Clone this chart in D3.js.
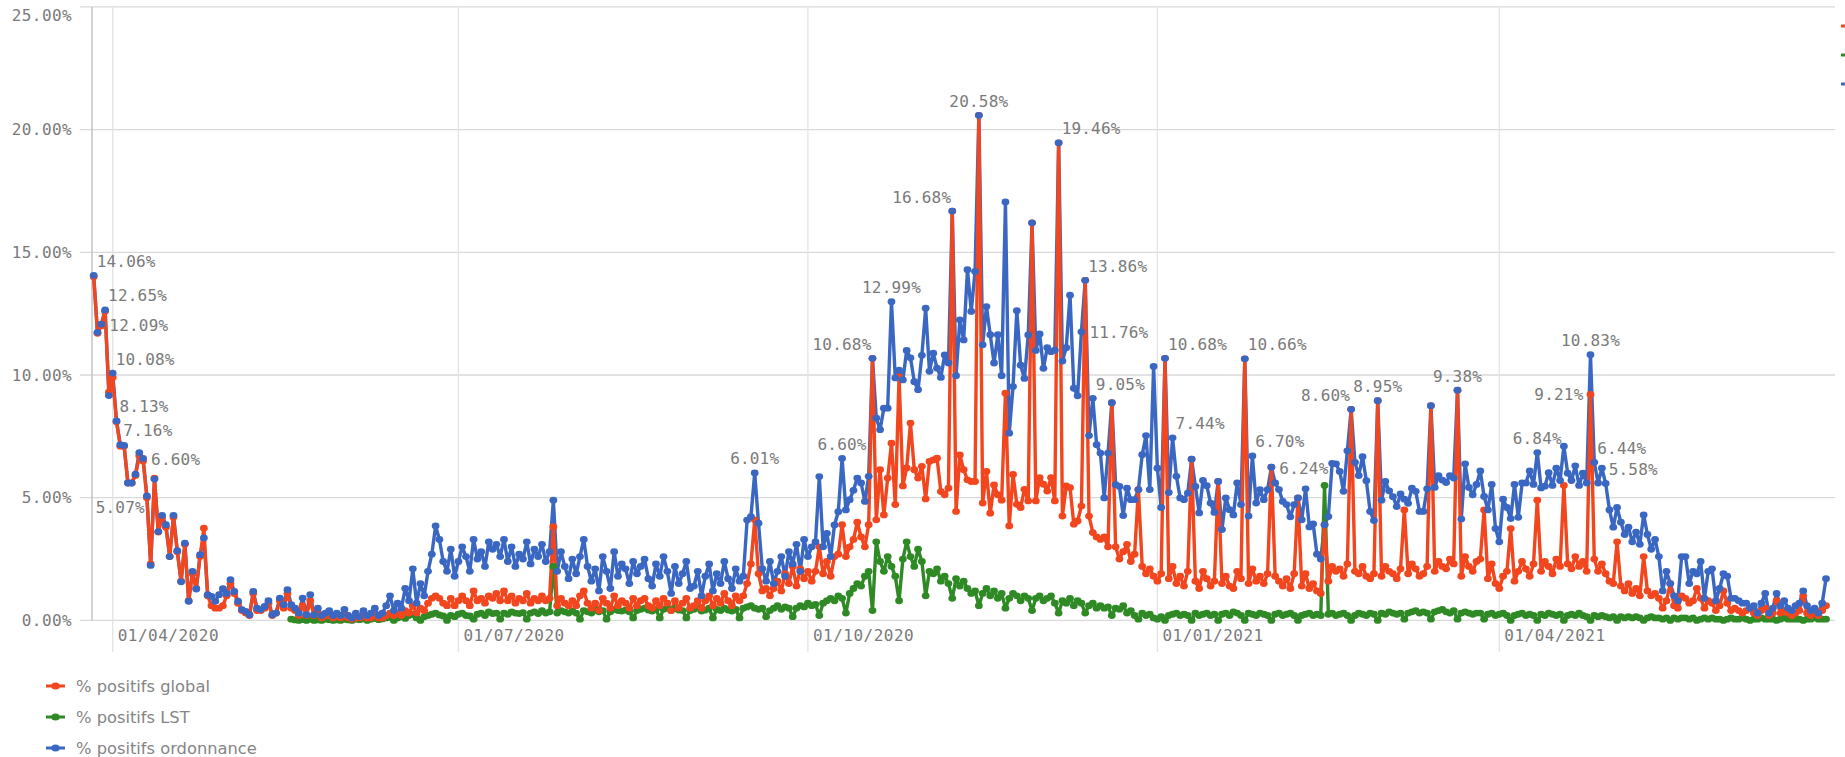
<!DOCTYPE html>
<html><head><meta charset="utf-8">
<script src="https://cdn.jsdelivr.net/npm/d3@7"></script>
<style>body{margin:0;background:#fff;}svg{display:block;}</style>
</head><body>
<svg id="chart" width="1845" height="757"></svg>
<script>
const startDate = "2020-03-27";
const seriesNames = ["% positifs global", "% positifs LST", "% positifs ordonnance"];
const yTicks = [0, 5, 10, 15, 20, 25];
const xTickDates = ["2020-04-01", "2020-07-01", "2020-10-01", "2021-01-01", "2021-04-01"];
const xTickLabels = ["01/04/2020", "01/07/2020", "01/10/2020", "01/01/2021", "01/04/2021"];

const ordonnance = [14.06, 11.74, 12.07,
12.65, 9.16, 10.08, 8.13, 7.16, 7.13, 5.6,
5.6, 5.96, 6.84, 6.60, 5.07, 2.24, 5.76,
3.62, 4.28, 3.9, 2.6, 4.28, 2.84, 1.57,
3.15, 0.78, 2.0, 1.28, 2.68, 3.36, 1.05,
0.98, 0.78, 1.05, 1.29, 1.1, 1.66, 1.18,
0.78, 0.44, 0.37, 0.23, 1.18, 0.5, 0.44,
0.57, 0.8, 0.23, 0.3, 0.91, 0.64, 1.25,
0.64, 0.5, 0.3, 0.91, 0.23, 1.05, 0.23,
0.5, 0.2, 0.3, 0.4, 0.2, 0.3, 0.2,
0.45, 0.2, 0.1, 0.3, 0.15, 0.4, 0.2,
0.3, 0.5, 0.2, 0.3, 0.6, 1.0, 0.4,
0.7, 0.5, 1.3, 0.8, 2.1, 0.7, 1.5,
1.0, 2.0, 2.7, 3.85, 3.3, 2.4, 2.0,
2.9, 1.8, 2.4, 3.0, 2.6, 2.0, 3.3,
2.5, 2.8, 2.2, 3.2, 2.9, 3.1, 2.6,
3.3, 2.4, 3.0, 2.2, 2.7, 2.5, 3.2,
2.3, 2.9, 2.6, 3.1, 2.4, 2.8, 4.9,
2.0, 2.8, 2.2, 1.7, 2.5, 1.9, 2.6,
3.3, 2.2, 1.6, 2.1, 1.2, 2.6, 2.0,
1.3, 2.8, 1.8, 2.3, 2.1, 1.5, 2.4,
1.9, 2.2, 2.5, 1.7, 1.4, 2.3, 1.8,
2.6, 2.0, 1.1, 2.2, 1.5, 1.9, 2.4,
1.3, 1.4, 2.0, 1.0, 1.8, 2.3, 1.2,
1.9, 1.5, 2.4, 1.7, 1.3, 2.1, 1.6,
1.8, 4.09, 4.23, 6.01, 3.96, 2.1, 1.6,
2.4, 1.5, 2.0, 2.6, 1.8, 2.8, 2.3,
3.1, 2.0, 3.3, 2.6, 3.0, 3.2, 5.86,
3.0, 3.55, 2.6, 3.89, 4.43, 6.60, 4.5,
4.92, 5.3, 5.8, 5.6, 4.85, 5.87, 10.68,
8.24, 7.77, 8.65, 8.65, 12.99, 9.88, 10.2,
9.8, 11.0, 10.7, 9.73, 9.4, 10.8, 12.72,
10.15, 10.89, 10.28, 9.9, 10.82, 10.49, 16.68,
9.97, 12.25, 11.43, 14.29, 12.59, 14.22, 20.58,
11.23, 12.79, 11.64, 10.49, 11.64, 9.97, 17.05,
7.63, 9.53, 12.62, 10.4, 9.86, 11.63, 16.2,
11.0, 11.67, 10.27, 11.11, 10.95, 11.01, 19.46,
10.57, 11.11, 13.25, 9.46, 9.15, 11.76, 13.86,
7.53, 9.05, 7.16, 6.82, 4.99, 6.82, 8.87,
5.53, 5.46, 4.27, 5.39, 4.92, 4.92, 5.33,
6.75, 7.53, 5.33, 10.35, 6.2, 4.6, 10.68,
5.21, 7.44, 5.87, 4.99, 4.92, 5.19, 6.57,
5.46, 4.38, 5.7, 5.49, 4.78, 4.4, 5.66,
3.7, 4.99, 4.51, 4.3, 5.6, 4.72, 10.66,
4.25, 6.70, 4.78, 5.33, 4.92, 5.33, 6.24,
5.6, 5.33, 4.85, 4.72, 4.22, 4.72, 4.99,
4.1, 5.36, 3.81, 3.93, 2.7, 2.5, 3.9,
4.23, 6.4, 6.38, 6.07, 5.26, 6.91, 8.60,
6.44, 5.9, 6.67, 5.69, 4.44, 4.07, 8.95,
4.9, 5.66, 5.28, 5.04, 4.64, 5.15, 4.94,
4.77, 5.39, 5.26, 4.44, 4.44, 5.36, 8.75,
5.42, 5.9, 5.72, 5.62, 5.9, 5.8, 9.38,
4.13, 6.38, 5.42, 5.12, 5.54, 6.09, 5.05,
4.5, 5.54, 3.74, 3.2, 4.94, 4.6, 4.15,
5.54, 4.2, 5.6, 5.6, 6.09, 5.54, 6.84,
5.4, 5.47, 6.02, 5.5, 6.2, 5.7, 7.1,
6.0, 5.7, 6.3, 5.5, 6.0, 5.6, 10.83,
6.44, 5.6, 6.2, 5.58, 4.5, 3.8, 4.6,
4.0, 3.5, 3.8, 3.2, 3.6, 3.1, 4.3,
3.5, 2.9, 3.3, 2.6, 1.2, 2.0, 1.5,
1.0, 0.8, 2.6, 2.6, 1.5, 2.0, 1.9,
2.4, 0.9, 2.0, 2.1, 0.8, 1.3, 1.9,
1.8, 0.9, 0.9, 0.8, 0.7, 0.7, 0.5,
0.6, 0.3, 0.7, 1.1, 0.3, 0.5, 1.1,
0.6, 0.8, 0.5, 0.4, 0.6, 0.7, 1.2,
0.6, 0.4, 0.5, 0.3, 0.7, 1.7];

const global = [14.0, 11.7, 12.0,
12.6, 9.3, 9.9, 8.1, 7.1, 7.1, 5.6,
5.6, 5.9, 6.7, 6.5, 5.0, 2.3, 5.8,
3.6, 4.2, 3.8, 2.6, 4.2, 2.8, 1.6,
3.1, 0.8, 1.9, 1.3, 2.6, 3.76, 1.0,
0.6, 0.5, 0.5, 0.6, 1.0, 1.5, 1.1,
0.7, 0.4, 0.3, 0.2, 1.1, 0.4, 0.4,
0.5, 0.7, 0.2, 0.3, 0.8, 0.5, 1.1,
0.5, 0.4, 0.2, 0.6, 0.2, 0.8, 0.2,
0.3, 0.1, 0.2, 0.2, 0.1, 0.2, 0.1,
0.2, 0.1, 0.05, 0.1, 0.1, 0.2, 0.1,
0.1, 0.2, 0.1, 0.1, 0.2, 0.3, 0.2,
0.3, 0.2, 0.4, 0.3, 0.6, 0.3, 0.5,
0.4, 0.7, 0.9, 1.0, 0.9, 0.7, 0.6,
0.9, 0.6, 0.8, 1.0, 0.8, 0.6, 1.2,
0.8, 0.9, 0.7, 1.0, 0.9, 1.1, 0.8,
1.2, 0.8, 1.0, 0.7, 0.9, 0.8, 1.1,
0.7, 0.9, 0.8, 1.0, 0.8, 0.9, 3.82,
0.6, 0.9, 0.7, 0.6, 0.8, 0.6, 1.0,
1.2, 0.7, 0.5, 0.7, 0.4, 0.9, 0.7,
0.5, 1.0, 0.6, 0.8, 0.7, 0.5, 0.9,
0.6, 0.8, 0.9, 0.6, 0.5, 0.8, 0.6,
0.9, 0.7, 0.4, 0.8, 0.5, 0.7, 0.9,
0.5, 0.6, 0.8, 0.5, 0.8, 1.0, 0.6,
0.9, 0.7, 1.1, 0.8, 0.6, 1.0, 0.8,
1.0, 1.5, 2.3, 4.1, 1.9, 1.2, 1.3,
1.0, 1.3, 1.6, 1.2, 1.9, 1.5, 2.2,
1.4, 2.1, 1.7, 2.0, 1.6, 2.0, 3.0,
1.9, 2.4, 1.8, 2.6, 2.7, 3.9, 2.6,
3.0, 3.3, 4.0, 3.4, 3.0, 3.9, 10.68,
4.1, 6.14, 4.3, 5.8, 7.22, 4.72, 9.93,
5.48, 6.21, 8.04, 6.14, 5.8, 6.28, 4.95,
6.48, 6.54, 6.61, 5.25, 5.12, 5.39, 16.68,
4.44, 6.74, 6.14, 5.73, 5.66, 5.66, 20.58,
4.78, 6.07, 4.37, 5.52, 5.12, 4.9, 9.26,
3.85, 5.95, 4.73, 4.6, 5.34, 4.87, 16.2,
4.87, 5.82, 5.55, 5.27, 5.82, 4.87, 19.46,
4.25, 5.48, 5.41, 3.92, 4.05, 4.66, 13.86,
4.25, 3.58, 3.4, 3.3, 3.4, 3.0, 8.87,
3.0, 2.5, 2.8, 3.1, 2.4, 2.7, 5.33,
2.2, 1.9, 2.1, 1.8, 1.6, 1.9, 10.68,
1.7, 2.2, 1.5, 1.8, 1.4, 2.0, 6.57,
1.6, 1.3, 2.0, 1.7, 1.4, 1.6, 5.66,
1.5, 1.8, 1.4, 1.3, 2.0, 1.7, 10.66,
1.5, 2.1, 1.6, 1.8, 1.5, 1.9, 6.24,
1.8, 1.6, 1.4, 1.7, 1.3, 1.9, 4.99,
1.4, 1.9, 1.3, 1.5, 1.2, 1.1, 3.9,
1.6, 2.2, 2.0, 2.1, 1.8, 2.3, 8.60,
2.0, 1.9, 2.2, 1.8, 1.7, 1.9, 8.95,
1.8, 2.2, 2.0, 1.9, 1.7, 2.1, 4.5,
1.9, 2.3, 2.1, 1.8, 1.9, 2.2, 8.75,
2.0, 2.4, 2.2, 2.1, 2.5, 2.3, 9.38,
1.8, 2.6, 2.2, 2.0, 2.4, 2.5, 4.5,
1.7, 2.3, 1.5, 1.3, 1.8, 2.0, 3.74,
1.6, 2.0, 2.4, 2.1, 1.8, 2.3, 4.9,
2.0, 2.4, 2.2, 1.9, 2.5, 2.2, 5.5,
2.3, 2.1, 2.6, 2.2, 2.4, 2.0, 9.21,
2.5, 2.0, 2.3, 1.9, 1.6, 1.5, 3.2,
1.4, 1.2, 1.5, 1.1, 1.3, 1.0, 2.6,
1.2, 1.0, 1.1, 0.9, 0.5, 0.8, 1.5,
0.6, 0.5, 1.0, 0.9, 0.7, 0.8, 1.3,
0.9, 0.5, 0.8, 0.7, 0.4, 0.6, 1.2,
0.7, 0.4, 0.5, 0.4, 0.3, 0.4, 0.5,
0.3, 0.2, 0.4, 0.5, 0.2, 0.3, 0.8,
0.3, 0.4, 0.3, 0.2, 0.3, 0.4, 1.0,
0.3, 0.2, 0.3, 0.2, 0.4, 0.6];

const lst = [null, null, null,
null, null, null, null, null, null, null,
null, null, null, null, null, null, null,
null, null, null, null, null, null, null,
null, null, null, null, null, null, null,
null, null, null, null, null, null, null,
null, null, null, null, null, null, null,
null, null, null, null, null, null, null,
0.05, 0.02, 0.0, 0.03, 0.0, 0.05, 0.0,
0.02, 0.0, 0.05, 0.03, 0.0, 0.02, 0.0,
0.04, 0.02, 0.0, 0.05, 0.03, 0.06, 0.0,
0.05, 0.08, 0.03, 0.06, 0.1, 0.12, 0.0,
0.1, 0.15, 0.08, 0.2, 0.25, 0.1, 0.0,
0.15, 0.2, 0.25, 0.3, 0.22, 0.18, 0.0,
0.2, 0.15, 0.25, 0.3, 0.2, 0.18, 0.05,
0.25, 0.3, 0.2, 0.35, 0.28, 0.3, 0.05,
0.3, 0.25, 0.35, 0.3, 0.28, 0.32, 0.05,
0.3, 0.35, 0.28, 0.4, 0.3, 0.35, 2.2,
0.3, 0.4, 0.35, 0.3, 0.38, 0.3, 0.05,
0.4, 0.35, 0.3, 0.42, 0.35, 0.4, 0.05,
0.35, 0.45, 0.4, 0.38, 0.42, 0.35, 0.1,
0.4, 0.45, 0.5, 0.42, 0.38, 0.45, 0.1,
0.45, 0.5, 0.4, 0.48, 0.42, 0.4, 0.1,
0.4, 0.45, 0.5, 0.38, 0.42, 0.5, 0.1,
0.45, 0.4, 0.5, 0.42, 0.38, 0.45, 0.1,
0.5, 0.55, 0.6, 0.5, 0.45, 0.5, 0.15,
0.4, 0.5, 0.6, 0.45, 0.55, 0.5, 0.15,
0.5, 0.6, 0.55, 0.7, 0.6, 0.65, 0.2,
0.7, 0.8, 0.9, 0.8, 1.0, 0.9, 0.3,
1.1, 1.3, 1.5, 1.4, 1.8, 2.0, 0.4,
3.2, 2.4, 2.0, 2.6, 2.2, 1.8, 0.8,
2.5, 3.2, 2.6, 2.2, 2.9, 2.4, 1.0,
2.0, 1.9, 2.1, 1.6, 1.8, 1.5, 0.9,
1.7, 1.4, 1.6, 1.3, 1.1, 1.2, 0.6,
1.1, 1.3, 1.0, 1.2, 0.9, 1.1, 0.5,
0.9, 1.1, 1.0, 0.8, 1.0, 0.9, 0.4,
0.9, 1.0, 0.8, 0.9, 1.0, 0.7, 0.3,
0.8, 0.7, 0.9, 0.6, 0.8, 0.7, 0.3,
0.6, 0.7, 0.5, 0.6, 0.5, 0.55, 0.2,
0.5, 0.45, 0.6, 0.3, 0.4, 0.2, 0.05,
0.3, 0.2, 0.25, 0.1, 0.05, 0.15, 0.0,
0.2, 0.25, 0.3, 0.2, 0.25, 0.2, 0.0,
0.3, 0.2, 0.25, 0.3, 0.2, 0.25, 0.0,
0.25, 0.3, 0.2, 0.35, 0.3, 0.2, 0.0,
0.3, 0.25, 0.2, 0.3, 0.25, 0.2, 0.0,
0.25, 0.3, 0.2, 0.25, 0.3, 0.2, 0.0,
0.2, 0.25, 0.3, 0.2, 0.25, 0.2, 5.5,
0.25, 0.3, 0.2, 0.25, 0.3, 0.2, 0.0,
0.2, 0.3, 0.25, 0.2, 0.3, 0.25, 0.0,
0.3, 0.25, 0.35, 0.3, 0.25, 0.3, 0.05,
0.3, 0.35, 0.4, 0.3, 0.35, 0.3, 0.05,
0.35, 0.4, 0.45, 0.35, 0.3, 0.4, 0.05,
0.3, 0.35, 0.3, 0.25, 0.3, 0.3, 0.05,
0.25, 0.3, 0.2, 0.25, 0.3, 0.2, 0.0,
0.2, 0.25, 0.3, 0.2, 0.25, 0.2, 0.0,
0.25, 0.2, 0.3, 0.25, 0.2, 0.25, 0.0,
0.2, 0.25, 0.2, 0.3, 0.2, 0.15, 0.0,
0.2, 0.15, 0.2, 0.15, 0.1, 0.15, 0.0,
0.15, 0.1, 0.15, 0.1, 0.15, 0.1, 0.0,
0.1, 0.15, 0.1, 0.1, 0.05, 0.1, 0.0,
0.1, 0.05, 0.1, 0.1, 0.05, 0.1, 0.0,
0.05, 0.1, 0.05, 0.1, 0.05, 0.05, 0.0,
0.05, 0.1, 0.05, 0.05, 0.1, 0.05, 0.0,
0.05, 0.05, 0.1, 0.05, 0.05, 0.05, 0.0,
0.05, 0.1, 0.05, 0.05, 0.05, 0.05, 0.0,
0.05, 0.05, 0.1, 0.05, 0.05, 0.05];

// labelled points: series, day index, text, placement
const pointLabels = [
  ["ordonnance", 0, "14.06%", "ar"], ["ordonnance", 3, "12.65%", "ar"], ["ordonnance", 2, "12.09%", "r"],
  ["ordonnance", 5, "10.08%", "ar"], ["ordonnance", 6, "8.13%", "ar"], ["ordonnance", 7, "7.16%", "ar"],
  ["ordonnance", 13, "6.60%", "r"], ["ordonnance", 14, "5.07%", "bl"],
  ["ordonnance", 174, "6.01%", "a"], ["ordonnance", 197, "6.60%", "a"], ["ordonnance", 205, "10.68%", "al"],
  ["ordonnance", 210, "12.99%", "a"], ["ordonnance", 226, "16.68%", "al"], ["ordonnance", 233, "20.58%", "a"],
  ["ordonnance", 254, "19.46%", "ar"], ["ordonnance", 261, "13.86%", "ar"], ["ordonnance", 260, "11.76%", "r"],
  ["ordonnance", 263, "9.05%", "ar"], ["ordonnance", 282, "10.68%", "ar"], ["ordonnance", 284, "7.44%", "ar"],
  ["ordonnance", 303, "10.66%", "ar"], ["ordonnance", 305, "6.70%", "ar"], ["ordonnance", 310, "6.24%", "r"],
  ["ordonnance", 331, "8.60%", "al"], ["ordonnance", 338, "8.95%", "a"], ["ordonnance", 359, "9.38%", "a"],
  ["ordonnance", 380, "6.84%", "a"], ["ordonnance", 394, "10.83%", "a"], ["global", 394, "9.21%", "l"],
  ["ordonnance", 395, "6.44%", "ar"], ["ordonnance", 398, "5.58%", "ar"]
];

const colors = {global: "#f2461e", lst: "#2f8a26", ordonnance: "#3a67c2"};
const seriesData = {global: global, lst: lst, ordonnance: ordonnance};

const svg = d3.select("#chart");
const parse = d3.utcParse("%Y-%m-%d");
const t0 = parse(startDate);
const dateOf = i => d3.utcDay.offset(t0, i);

const x = d3.scaleUtc().domain([parse("2020-04-01"), parse("2021-04-01")]).range([112.7, 1499.3]);
const y = d3.scaleLinear().domain([0, 25]).range([620.4, 6.9]);
const plotRight = 1835;

const mono = "'DejaVu Sans Mono', monospace";

svg.append("g").selectAll("line").data(yTicks).join("line")
  .attr("x1", 80).attr("x2", plotRight)
  .attr("y1", d => y(d)).attr("y2", d => y(d))
  .attr("stroke", "#d9d9d9").attr("stroke-width", 1.3);
svg.append("g").selectAll("line").data(xTickDates).join("line")
  .attr("x1", d => x(parse(d))).attr("x2", d => x(parse(d)))
  .attr("y1", y(25)).attr("y2", 652)
  .attr("stroke", "#e3e3e3").attr("stroke-width", 1.3);
svg.append("line").attr("x1", 92).attr("x2", 92).attr("y1", y(25)).attr("y2", y(0))
  .attr("stroke", "#c4c4c4").attr("stroke-width", 1.5);

svg.append("g").selectAll("text").data(yTicks).join("text")
  .attr("x", 72).attr("y", d => Math.max(y(d), 15.5))
  .attr("text-anchor", "end").attr("dominant-baseline", "central")
  .attr("font-family", mono).attr("font-size", 16).attr("letter-spacing", 0.4)
  .attr("fill", "#7a7a7a")
  .text(d => d3.format(".2f")(d) + "%");
svg.append("g").selectAll("text").data(xTickDates).join("text")
  .attr("x", d => x(parse(d)) + 5).attr("y", 635)
  .attr("dominant-baseline", "central")
  .attr("font-family", mono).attr("font-size", 16).attr("letter-spacing", 0.5)
  .attr("fill", "#7a7a7a")
  .text((d, i) => xTickLabels[i]);

function pts(key) {
  return seriesData[key].map((v, i) => ({i, v, d: dateOf(i)})).filter(p => p.v !== null);
}
const line = d3.line().x(p => x(p.d)).y(p => y(p.v));
["ordonnance", "lst", "global"].forEach(k => {
  svg.append("path").datum(pts(k)).attr("d", line)
    .attr("fill", "none").attr("stroke", colors[k]).attr("stroke-width", 3.4)
    .attr("stroke-linejoin", "round");
});
["lst", "global", "ordonnance"].forEach(k => {
  svg.append("g").selectAll("ellipse").data(pts(k)).join("ellipse")
    .attr("cx", p => x(p.d)).attr("cy", p => y(p.v))
    .attr("rx", 3.9).attr("ry", 3.4).attr("fill", colors[k]);
});

const place = {
  a:  {anchor: "middle", dx: 0, dy: -14},
  ar: {anchor: "start", dx: 3, dy: -14},
  al: {anchor: "end", dx: -1, dy: -14},
  r:  {anchor: "start", dx: 8, dy: 1},
  l:  {anchor: "end", dx: -7, dy: 0},
  bl: {anchor: "end", dx: -2, dy: 12}
};
svg.append("g").selectAll("text").data(pointLabels).join("text")
  .attr("x", d => x(dateOf(d[1])) + place[d[3]].dx)
  .attr("y", d => y(seriesData[d[0]][d[1]]) + place[d[3]].dy)
  .attr("text-anchor", d => place[d[3]].anchor)
  .attr("dominant-baseline", "central")
  .attr("font-family", mono).attr("font-size", 16).attr("letter-spacing", 0.2)
  .attr("fill", "#7a7a7a")
  .text(d => d[2]);

// legend (bottom) and clipped legend markers at right edge
const legKeys = ["global", "lst", "ordonnance"];
const leg = svg.append("g").selectAll("g").data(legKeys).join("g")
  .attr("transform", (d, i) => `translate(0,${686 + i * 31})`);
leg.append("line").attr("x1", 46).attr("x2", 65).attr("y1", 0).attr("y2", 0)
  .attr("stroke", d => colors[d]).attr("stroke-width", 3);
leg.append("ellipse").attr("cx", 55.5).attr("cy", 0).attr("rx", 4.2).attr("ry", 3.6)
  .attr("fill", d => colors[d]);
leg.append("text").attr("x", 76).attr("y", 0).attr("dominant-baseline", "central")
  .attr("font-family", "'DejaVu Sans', sans-serif").attr("font-size", 16.3)
  .attr("fill", "#858585")
  .text((d, i) => seriesNames[i]);

svg.append("g").selectAll("line").data(legKeys).join("line")
  .attr("x1", 1841).attr("x2", 1845)
  .attr("y1", (d, i) => 26 + i * 29).attr("y2", (d, i) => 26 + i * 29)
  .attr("stroke", d => colors[d]).attr("stroke-width", 3);
</script>
</body></html>
